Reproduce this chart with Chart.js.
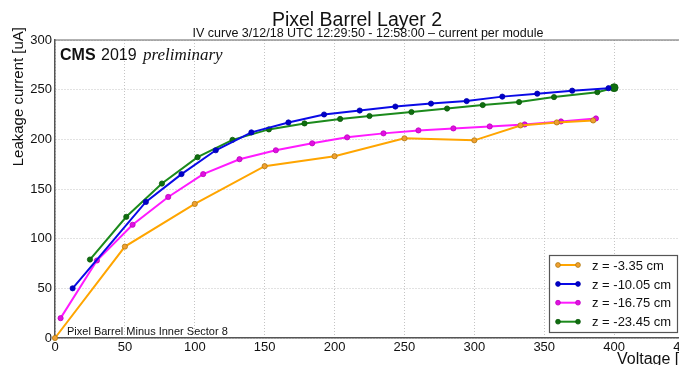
<!DOCTYPE html>
<html>
<head>
<meta charset="utf-8">
<script src="https://cdn.jsdelivr.net/npm/chart.js@4"></script>
<style>
  html, body { margin: 0; padding: 0; background: #fff; }
  #wrap { width: 679px; height: 365px; overflow: hidden; position: relative; }
</style>
</head>
<body>
<div id="wrap"><canvas id="iv" width="720" height="365"></canvas></div>
<script>
// IV curves per module, voltage [V] vs leakage current [uA]
const labels = ['z = -3.35 cm', 'z = -10.05 cm', 'z = -16.75 cm', 'z = -23.45 cm'];

const voltZ1 = [0, 50, 100, 150, 200, 250, 300, 333, 359, 385];
const currZ1 = [0, 92, 135, 173, 183, 201, 199, 214, 217, 219];

const voltZ2 = [12.6, 65, 90.5, 115, 140.5, 167, 192.5, 218, 243.5, 269, 294.5, 320, 345, 370, 396];
const currZ2 = [50, 137, 165, 189, 207, 217, 225, 229, 233, 236, 238.5, 243, 246, 249, 251.5];

const voltZ3 = [4, 30, 55.5, 81, 106, 132, 158, 184, 209, 235, 260, 285, 311, 336, 362, 387];
const currZ3 = [20, 78, 114, 142, 165, 180, 189, 196, 202, 206, 209, 211, 213, 215, 218, 221];

const voltZ4 = [25, 51, 76.5, 102, 127, 153, 178.5, 204, 225, 255, 280.5, 306, 332, 357, 388, 400];
const currZ4 = [79, 122, 155.5, 182, 199.5, 210, 216, 220.5, 223.5, 227.5, 231, 234.5, 237.5, 242.5, 247.5, 252];

const xTicks = [0, 50, 100, 150, 200, 250, 300, 350, 400, 450];
const yTicks = [0, 50, 100, 150, 200, 250, 300];

const lineColors = ['#ffa500', '#0a0ae6', '#ff1aff', '#1c8a1c'];
const pointFill = ['#f0a030', '#0000c8', '#e010e0', '#0f6e0f'];
const pointEdge = ['#b07a10', '#0000b0', '#c000c0', '#0b5a0b'];

const pairs = (xs, ys) => xs.map((x, i) => ({x: x, y: ys[i]}));
const series = [pairs(voltZ1, currZ1), pairs(voltZ2, currZ2), pairs(voltZ3, currZ3), pairs(voltZ4, currZ4)];

const FONT = '"Liberation Sans", Arial, Helvetica, sans-serif';

const datasets = series.map((d, i) => ({
  label: labels[i],
  data: d,
  showLine: true,
  borderColor: lineColors[i],
  borderWidth: 2,
  backgroundColor: pointFill[i],
  pointBackgroundColor: pointFill[i],
  pointBorderColor: pointEdge[i],
  pointBorderWidth: 0.8,
  // last green point is drawn a bit larger
  pointRadius: i === 3 ? d.map((p, j) => j === d.length - 1 ? 4 : 2.6) : 2.6,
  tension: 0,
  clip: 4
}));

const decorations = {
  id: 'decorations',
  afterDraw(chart) {
    const {ctx, chartArea: a} = chart;
    ctx.save();

    // frame top / right
    ctx.strokeStyle = '#666';
    ctx.lineWidth = 1.2;
    ctx.beginPath();
    ctx.moveTo(a.left, a.top);
    ctx.lineTo(a.right, a.top);
    ctx.lineTo(a.right, a.bottom);
    ctx.stroke();

    ctx.fillStyle = '#111';
    ctx.textBaseline = 'alphabetic';

    // titles
    ctx.textAlign = 'center';
    ctx.font = '19.5px ' + FONT;
    ctx.fillText('Pixel Barrel Layer 2', 357, 26);
    ctx.font = '12.5px ' + FONT;
    ctx.fillText('IV curve 3/12/18 UTC 12:29:50 - 12:58:00 \u2013 current per module', 368, 36.5);

    // CMS label
    ctx.textAlign = 'left';
    ctx.font = 'bold 16px ' + FONT;
    ctx.fillText('CMS', 60, 60);
    ctx.font = '16px ' + FONT;
    ctx.fillText('2019', 101, 60);
    ctx.font = 'italic 17px "Liberation Serif", "DejaVu Serif", serif';
    ctx.fillText('preliminary', 143, 60);

    // sector label
    ctx.font = '11px ' + FONT;
    ctx.fillText('Pixel Barrel Minus Inner Sector 8', 67, 335);

    // axis titles
    ctx.font = '16px ' + FONT;
    ctx.fillText('Voltage [V]', 617, 364);
    ctx.save();
    ctx.font = '15px ' + FONT;
    ctx.translate(23, 27);
    ctx.rotate(-Math.PI / 2);
    ctx.textAlign = 'right';
    ctx.fillText('Leakage current [uA]', 0, 0);
    ctx.restore();

    // legend box
    const bx = 549, by = 255, bw = 128, bh = 77;
    ctx.fillStyle = '#fff';
    ctx.fillRect(bx, by, bw, bh);
    ctx.strokeStyle = '#555';
    ctx.lineWidth = 1.2;
    ctx.strokeRect(bx + 0.5, by + 0.5, bw, bh);
    const rows = [265, 284, 302.7, 321.7];
    ctx.font = '13px ' + FONT;
    labels.forEach((t, i) => {
      const y = rows[i];
      ctx.strokeStyle = lineColors[i];
      ctx.lineWidth = 2;
      ctx.beginPath();
      ctx.moveTo(558, y);
      ctx.lineTo(578, y);
      ctx.stroke();
      [558, 578].forEach(px => {
        ctx.beginPath();
        ctx.arc(px, y, 2.4, 0, Math.PI * 2);
        ctx.fillStyle = pointFill[i];
        ctx.fill();
        ctx.strokeStyle = pointEdge[i];
        ctx.lineWidth = 0.8;
        ctx.stroke();
      });
      ctx.fillStyle = '#111';
      ctx.fillText(t, 592, y + 4.5);
    });

    ctx.restore();
  }
};

new Chart(document.getElementById('iv'), {
  type: 'scatter',
  data: {datasets},
  options: {
    responsive: false,
    animation: false,
    devicePixelRatio: 1,
    layout: {padding: {top: 40, left: 0, right: 36, bottom: 0}},
    plugins: {
      legend: {display: false},
      tooltip: {enabled: false},
      title: {display: false}
    },
    scales: {
      x: {
        type: 'linear',
        min: 0,
        max: 450,
        afterFit: s => { s.height = 27; },
        afterBuildTicks: s => { s.ticks = xTicks.map(v => ({value: v})); },
        grid: {color: '#c4c4c4', lineWidth: 1, drawTicks: false},
        border: {display: true, color: '#555', width: 1.5, dash: [1, 2]},
        ticks: {font: {family: FONT, size: 13}, color: '#111', padding: 2, maxRotation: 0}
      },
      y: {
        min: 0,
        max: 300,
        afterFit: s => { s.width = 55; },
        afterBuildTicks: s => { s.ticks = yTicks.map(v => ({value: v})); },
        grid: {color: '#c4c4c4', lineWidth: 1, drawTicks: false},
        border: {display: true, color: '#555', width: 1.5, dash: [1, 2]},
        ticks: {font: {family: FONT, size: 13}, color: '#111', padding: 3}
      }
    }
  },
  plugins: [decorations]
});
</script>
</body>
</html>
